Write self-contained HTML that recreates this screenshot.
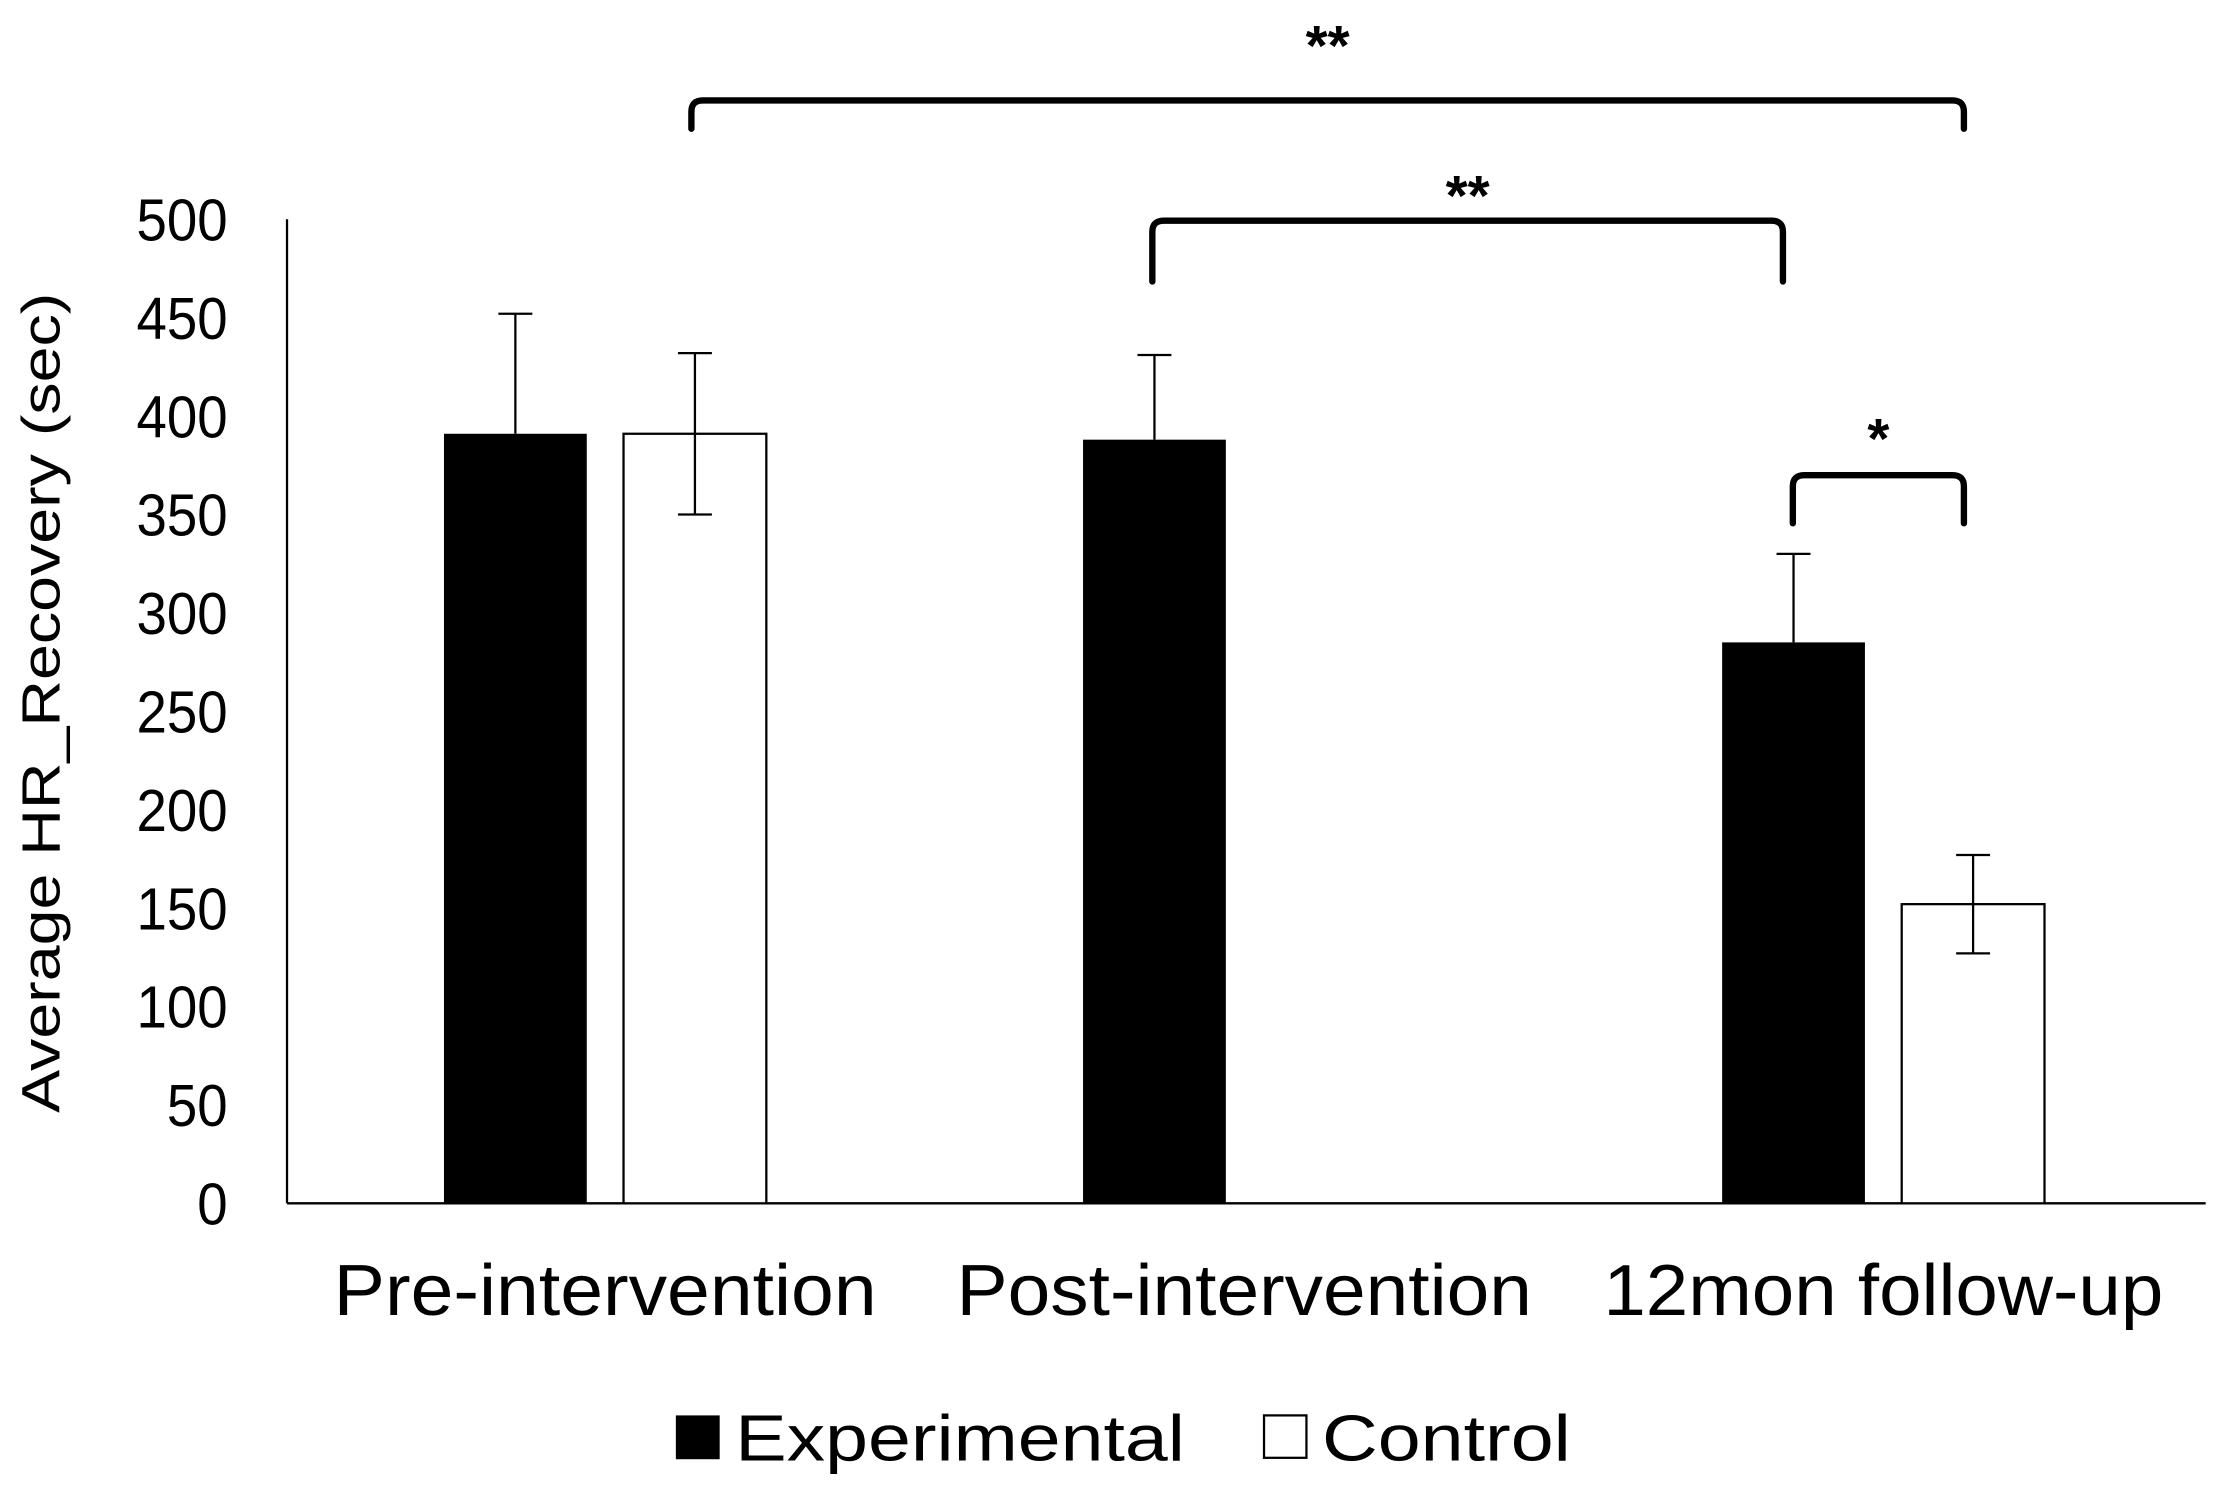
<!DOCTYPE html>
<html><head><meta charset="utf-8"><style>
html,body{margin:0;padding:0;background:#fff;}
svg{display:block;font-family:"Liberation Sans",Arial,sans-serif;}
</style></head><body>
<svg id="chart" width="2217" height="1489" viewBox="0 0 1568 1053" xmlns="http://www.w3.org/2000/svg">
<g id="axes"></g><g id="bars"></g><g id="sig"></g>
</svg>
<script>
const categories = ["Pre-intervention", "Post-intervention", "12mon follow-up"];
const expValues = [391, 388, 285];
const expErr = [61, 43, 45];
const ctrlValues = [391, null, 152];
const ctrlErr = [41, null, 25];
const yTicks = [0, 50, 100, 150, 200, 250, 300, 350, 400, 450, 500];

const NS = "http://www.w3.org/2000/svg";
const x0 = 203, x1 = 1560, yBase = 851, yTop = 155;
const y = v => yBase - (v / 500) * (yBase - yTop);
const groupCenter = i => 428 + i * 452;
const labelWidths = [384, 407, 396];
function mk(tag, attrs, parent) {
  const e = document.createElementNS(NS, tag);
  for (const k in attrs) e.setAttribute(k, attrs[k]);
  parent.appendChild(e);
  return e;
}
const axes = document.getElementById("axes");
const bars = document.getElementById("bars");
const sig = document.getElementById("sig");

let e = mk("line", {x1: x0, y1: yTop, x2: x0, y2: yBase, stroke: "#000", "stroke-width": 1.6}, axes);


e = mk("line", {x1: x0, y1: yBase, x2: x1, y2: yBase, stroke: "#000", "stroke-width": 1.6}, axes);



yTicks.forEach(t => {
  const tx = mk("text", {x: 0, y: 0, "text-anchor": "end", "font-size": 42, transform: `translate(161,${y(t) + 15}) scale(0.92,1)`}, axes);
  tx.textContent = t;
  
  
});
e = mk("text", {x: 0, y: 0, "text-anchor": "middle", "font-size": 38, transform: "translate(42,497) rotate(-90)", textLength: 580, lengthAdjust: "spacingAndGlyphs"}, axes);
e.textContent = "Average HR_Recovery (sec)";



categories.forEach((c, i) => {
  const tx = mk("text", {x: groupCenter(i), y: 930, "text-anchor": "middle", "font-size": 51, textLength: labelWidths[i], lengthAdjust: "spacingAndGlyphs"}, axes);
  tx.textContent = c;
  
  
});

const bw = 101;
function errBar(cx, v, err, both) {
  const g = mk("g", {stroke: "#000", "stroke-width": 1.6}, bars);
  
  
  mk("line", {x1: cx, y1: y(v + err), x2: cx, y2: both ? y(v - err) : y(v)}, g);
  mk("line", {x1: cx - 12, y1: y(v + err), x2: cx + 12, y2: y(v + err)}, g);
  if (both) mk("line", {x1: cx - 12, y1: y(v - err), x2: cx + 12, y2: y(v - err)}, g);
}
categories.forEach((c, i) => {
  const gc = groupCenter(i);
  if (expValues[i] != null) {
    const bx = gc - 114;
    const r = mk("rect", {x: bx, y: y(expValues[i]), width: bw, height: yBase - y(expValues[i]), fill: "#000"}, bars);
    
    
    errBar(bx + bw / 2, expValues[i], expErr[i], false);
  }
  if (ctrlValues[i] != null) {
    const bx = gc + 13;
    const r = mk("rect", {x: bx, y: y(ctrlValues[i]), width: bw, height: yBase - y(ctrlValues[i]), fill: "#fff", stroke: "#000", "stroke-width": 1.6}, bars);
    
    
    errBar(bx + bw / 2, ctrlValues[i], ctrlErr[i], true);
  }
});

function bracket(xa, xb, yh, yl, label, ly) {
  const p = mk("path", {d: `M${xa},${yl} L${xa},${yh + 8} Q${xa},${yh} ${xa + 8},${yh} L${xb - 8},${yh} Q${xb},${yh} ${xb},${yh + 8} L${xb},${yl}`, fill: "none", stroke: "#000", "stroke-width": 4.5, "stroke-linecap": "round"}, sig);
  
  
  const t = mk("text", {x: (xa + xb) / 2, y: ly, "text-anchor": "middle", "font-size": 40, "font-weight": "bold"}, sig);
  t.textContent = label;
  
  
}
bracket(489, 1389, 71, 91, "**", 46);
bracket(815, 1261, 156, 199, "**", 152);
bracket(1268, 1389, 336, 370, "*", 324);

e = mk("rect", {x: 478, y: 1001, width: 31, height: 31, fill: "#000"}, axes);


e = mk("text", {x: 520, y: 1033, "font-size": 46, textLength: 318, lengthAdjust: "spacingAndGlyphs"}, axes);
e.textContent = "Experimental";


e = mk("rect", {x: 894, y: 1001, width: 30, height: 30, fill: "#fff", stroke: "#000", "stroke-width": 1.6}, axes);


e = mk("text", {x: 935, y: 1033, "font-size": 46, textLength: 176, lengthAdjust: "spacingAndGlyphs"}, axes);
e.textContent = "Control";


</script>
</body></html>
